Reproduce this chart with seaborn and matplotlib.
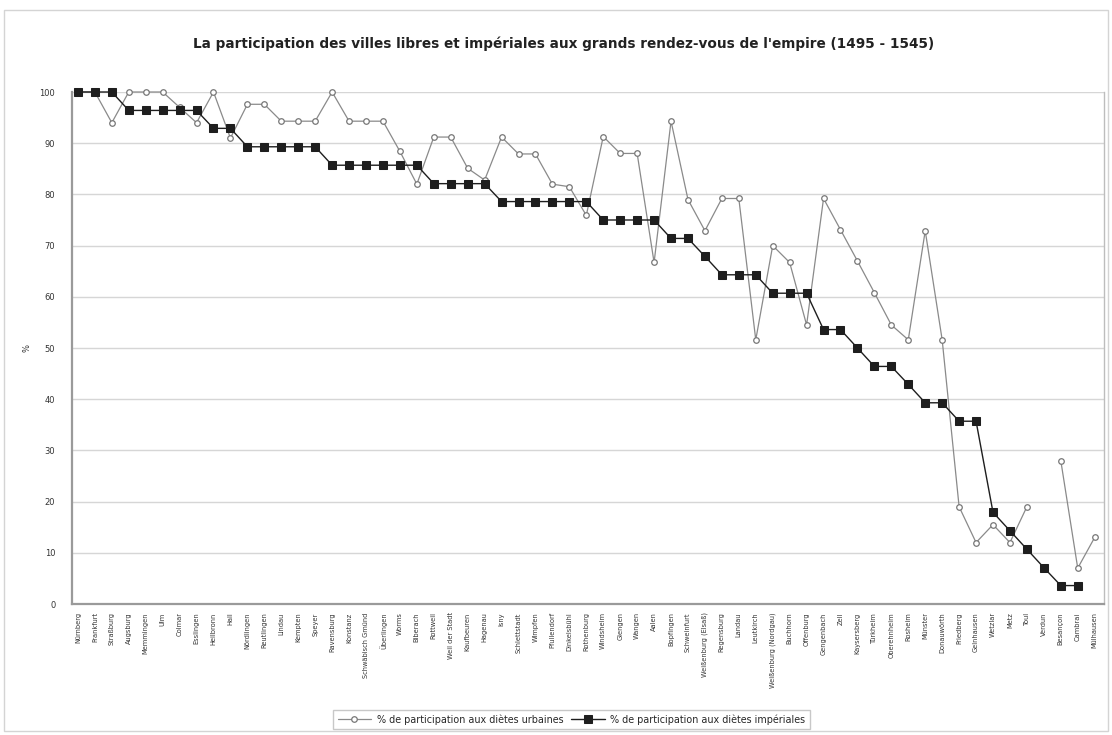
import numpy as np
import pandas as pd
import matplotlib
matplotlib.use("Agg")
import matplotlib.pyplot as plt
import seaborn as sns

# Villes libres et impériales, classées par participation décroissante
villes = [
    "Nürnberg", "Frankfurt", "Straßburg", "Augsburg", "Memmingen", "Ulm",
    "Colmar", "Esslingen", "Heilbronn", "Hall", "Nördlingen", "Reutlingen",
    "Lindau", "Kempten", "Speyer", "Ravensburg", "Konstanz", "Schwäbisch Gmünd",
    "Überlingen", "Worms", "Biberach", "Rottweil", "Weil der Stadt", "Kaufbeuren",
    "Hagenau", "Isny", "Schlettstadt", "Wimpfen", "Pfullendorf", "Dinkelsbühl",
    "Rothenburg", "Windsheim", "Giengen", "Wangen", "Aalen", "Bopfingen",
    "Schweinfurt", "Weißenburg (Elsaß)", "Regensburg", "Landau", "Leutkirch",
    "Weißenburg (Nordgau)", "Buchhorn", "Offenburg", "Gengenbach", "Zell",
    "Kaysersberg", "Türkheim", "Oberehnheim", "Rosheim", "Münster",
    "Donauwörth", "Friedberg", "Gelnhausen", "Wetzlar", "Metz", "Toul",
    "Verdun", "Besançon", "Cambrai", "Mülhausen",
]

# % de participation aux diètes urbaines
diètes_urbaines = [
    100, 100, 94.0, 100, 100, 100, 97.0, 94.0, 100, 91.0,
    97.6, 97.6, 94.3, 94.3, 94.3, 100, 94.3, 94.3, 94.3, 88.4,
    82.0, 91.2, 91.2, 85.1, 82.8, 91.2, 87.9, 87.9, 82.0, 81.5,
    75.9, 91.3, 88.0, 88.0, 66.7, 94.3, 79.0, 72.9, 79.2, 79.2,
    51.6, 70.0, 66.7, 54.5, 79.2, 73.1, 67.0, 60.8, 54.5, 51.6,
    72.9, 51.6, 19.0, 12.0, 15.5, 12.0, 19.0, np.nan, 28.0, 7.0,
    13.0,
]

# % de participation aux diètes impériales
diètes_impériales = [
    100, 100, 100, 96.4, 96.4, 96.4, 96.4, 96.4, 92.9, 92.9,
    89.3, 89.3, 89.3, 89.3, 89.3, 85.7, 85.7, 85.7, 85.7, 85.7,
    85.7, 82.1, 82.1, 82.1, 82.1, 78.6, 78.6, 78.6, 78.6, 78.6,
    78.6, 75.0, 75.0, 75.0, 75.0, 71.4, 71.4, 67.9, 64.3, 64.3,
    64.3, 60.7, 60.7, 60.7, 53.6, 53.6, 50.0, 46.4, 46.4, 42.9,
    39.3, 39.3, 35.7, 35.7, 17.9, 14.3, 10.7, 7.1, 3.6, 3.6,
    np.nan,
]

lab_urb = "% de participation aux diètes urbaines"
lab_imp = "% de participation aux diètes impériales"
y_ticks = list(range(0, 101, 10))


def segments(values, label):
    """Long-format rows; a missing value starts a new line segment."""
    rows, seg = [], 0
    for i, v in enumerate(values):
        if v is None or (isinstance(v, float) and np.isnan(v)):
            seg += 1
            continue
        rows.append({"x": i, "val": v, "série": label, "seg": f"{label}-{seg}"})
    return rows


df = pd.DataFrame(segments(diètes_urbaines, lab_urb) + segments(diètes_impériales, lab_imp))

sns.set_theme(style="white")
plt.rcParams["font.family"] = ["DejaVu Sans"]

fig = plt.figure(figsize=(11.12, 7.35), dpi=100)
ax = fig.add_axes([72 / 1112, 1 - 604 / 735, (1104 - 72) / 1112, (604 - 92) / 735])

# light frame around the whole chart
fig.patches.append(plt.Rectangle((0.004, 0.006), 0.992, 0.98, transform=fig.transFigure,
                                 fill=False, edgecolor="#d4d4d4", linewidth=1.0))

sns.lineplot(data=df, x="x", y="val", hue="série", style="série", units="seg",
             estimator=None, sort=False, dashes=False,
             markers={lab_urb: "o", lab_imp: "s"},
             palette={lab_urb: "#8a8a8a", lab_imp: "#1e1e1e"},
             linewidth=1.0, ax=ax, legend=False, clip_on=False)

# marker styles: hollow circles beneath filled black squares
lines = ax.get_lines()
for ln in lines:
    if ln.get_marker() == "o":
        ln.set_markerfacecolor("white")
        ln.set_markeredgecolor("#777777")
        ln.set_markersize(4.0)
        ln.set_markeredgewidth(0.9)
        ln.set_linewidth(0.9)
        ln.set_zorder(3)
    else:
        ln.set_markerfacecolor("#1e1e1e")
        ln.set_markeredgecolor("#1e1e1e")
        ln.set_markersize(5.6)
        ln.set_zorder(4)

ax.set_xlim(-0.35, 60.55)
ax.set_ylim(0, 100)
ax.set_yticks(y_ticks)
ax.set_yticklabels([str(t) for t in y_ticks], fontsize=6, color="#333333")
ax.set_xticks(range(len(villes)))
ax.set_xticklabels(villes, rotation=90, fontsize=4.8, color="#333333")
ax.tick_params(axis="x", length=3, width=0.6, color="#999999", pad=3, direction="out")
ax.tick_params(axis="y", length=0, pad=12)
ax.yaxis.grid(True, color="#d6d6d6", linewidth=1.0)
ax.set_axisbelow(True)
ax.set_xlabel("")
ax.set_ylabel("%", fontsize=6, color="#333333", rotation=90, labelpad=6)

for side in ["left", "bottom"]:
    ax.spines[side].set_color("#9a9a9a")
    ax.spines[side].set_linewidth(1.6)
ax.spines["right"].set_color("#bdbdbd")
ax.spines["right"].set_linewidth(1.0)
ax.spines["top"].set_visible(False)

fig.text(0.507, 0.941,
         "La participation des villes libres et impériales aux grands rendez-vous de l'empire (1495 - 1545)",
         ha="center", va="center", fontsize=9.8, fontweight="bold", color="#222222")

# legend built from the drawn lines
h_urb = next(l for l in lines if l.get_marker() == "o")
h_imp = next(l for l in lines if l.get_marker() == "s")
fig.legend([h_urb, h_imp], [lab_urb, lab_imp], loc="center", ncol=2,
           bbox_to_anchor=(0.514, 0.021), fontsize=6.9, frameon=True,
           fancybox=False, edgecolor="#bbbbbb", handlelength=3.5,
           columnspacing=0.8, handletextpad=0.6, borderpad=0.45)

fig.savefig("out.png", dpi=100, facecolor="white")
